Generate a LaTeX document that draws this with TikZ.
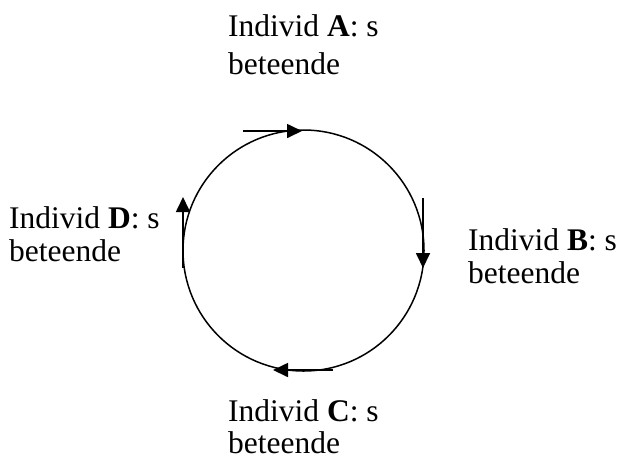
\documentclass[tikz,border=0pt]{standalone}
\usepackage{fontspec}
\setmainfont{Liberation Serif}
\usetikzlibrary{arrows.meta}
\begin{document}
\begin{tikzpicture}[x=1pt,y=-1pt,
  lbl/.style={anchor=base west,inner sep=0pt,font=\fontsize{31.5}{34}\selectfont},
  flow/.style={line width=1.7pt,-{Triangle[length=15pt,width=14pt]}},
  ring/.style={line width=1.5pt}]
\useasboundingbox (0,0) rectangle (620,459);
\node[ring,draw,circle,minimum size=241pt,inner sep=0pt] (c) at (303.5,250.5) {};
% labels
\node[lbl] (a1) at (228,36) {Individ \textbf{A}: s};
\node[lbl] (a2) at (228,74) {beteende};
\node[lbl] (b1) at (468,250) {Individ \textbf{B}: s};
\node[lbl] (b2) at (468,283) {beteende};
\node[lbl] (c1) at (228,421) {Individ \textbf{C}: s};
\node[lbl] (c2) at (228,453) {beteende};
\node[lbl] (d1) at (9,228) {Individ \textbf{D}: s};
\node[lbl] (d2) at (9,261) {beteende};
% arrows
\coordinate (ta) at (243,131); \coordinate (tb) at (302,131);
\coordinate (ra) at (423,198); \coordinate (rb) at (423,268);
\coordinate (ba) at (333,370); \coordinate (bb) at (273,370);
\coordinate (la) at (183,268); \coordinate (lb) at (183,197);
\draw[flow] (ta) -- (tb);
\draw[flow] (ra) -- (rb);
\draw[flow] (ba) -- (bb);
\draw[flow] (la) -- (lb);
\end{tikzpicture}
\end{document}
